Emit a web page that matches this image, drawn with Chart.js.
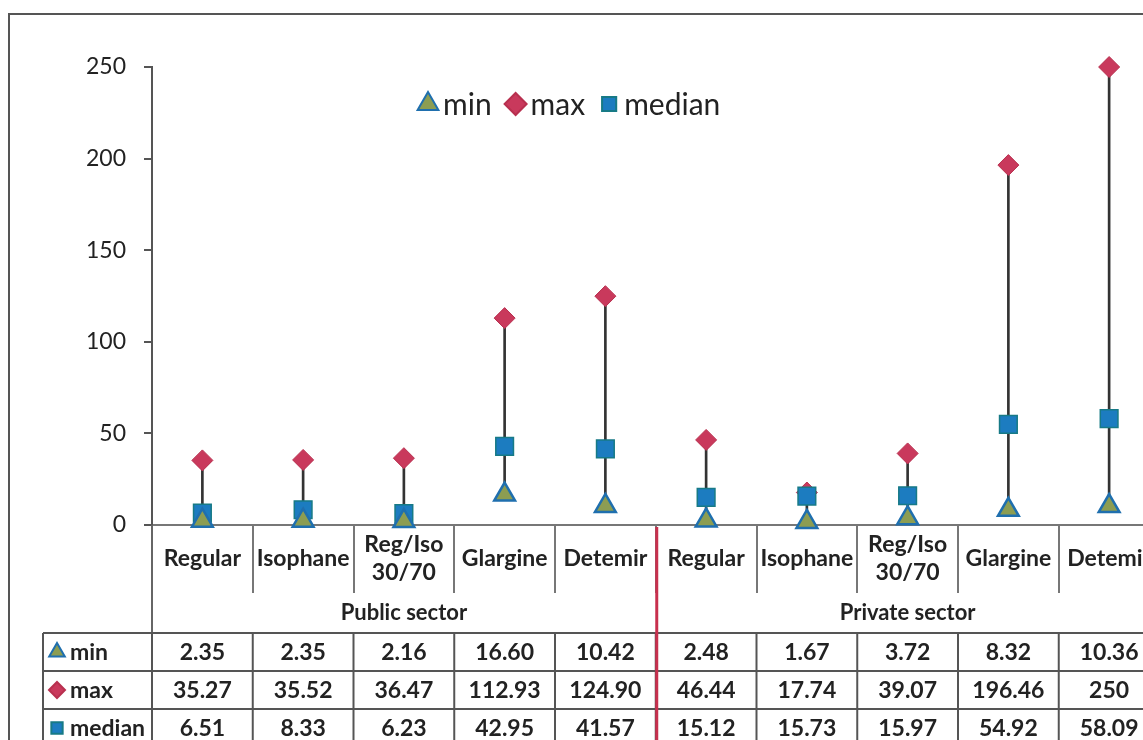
<!DOCTYPE html>
<html>
<head>
<meta charset="utf-8">
<script src="https://cdn.jsdelivr.net/npm/chart.js@4.4.1/dist/chart.umd.min.js"></script>
<style>
    html, body { margin: 0; padding: 0; overflow: hidden; background: #fff; }
    #caixa { position: relative; width: 1174px; height: 740px; }
</style>
</head>
<body>
<div id="caixa"><canvas id="grafico_insulina" width="1174" height="740"></canvas></div>
<script>
const categorias = [
    'Regular', 'Isophane', ['Reg/Iso', '30/70'], 'Glargine', 'Detemir',
    'Regular', 'Isophane', ['Reg/Iso', '30/70'], 'Glargine', 'Detemir'
];
const setores = ['Public sector', 'Private sector'];
const valores_min = [2.35, 2.35, 2.16, 16.60, 10.42, 2.48, 1.67, 3.72, 8.32, 10.36];
const valores_max = [35.27, 35.52, 36.47, 112.93, 124.90, 46.44, 17.74, 39.07, 196.46, 250];
const valores_mediana = [6.51, 8.33, 6.23, 42.95, 41.57, 15.12, 15.73, 15.97, 54.92, 58.09];
const nomes_series = ['min', 'max', 'median'];

const cor_texto = '#222';
const cor_linha = '#666';

// estilo de cada serie (usado no grafico, na legenda e na tabela)
const estilo_min = { pointStyle: 'triangle', pointRadius: 12, pointBackgroundColor: '#8c9d52', pointBorderColor: '#1f6fae', pointBorderWidth: 2.5 };
const estilo_max = { pointStyle: 'rectRot', pointRadius: 10.5, pointBackgroundColor: '#c9395c', pointBorderColor: '#b8304f', pointBorderWidth: 1 };
const estilo_mediana = { pointStyle: 'rect', pointRadius: 12.5, pointBackgroundColor: '#1c7cc0', pointBorderColor: '#177a86', pointBorderWidth: 1.5 };
const estilos = [estilo_min, estilo_max, estilo_mediana];
const series = [valores_min, valores_max, valores_mediana];

function formatar(v) {
    return Number.isInteger(v) ? String(v) : v.toFixed(2);
}

function desenharSimbolo(ctx, estilo, x, y, raio) {
    ctx.save();
    ctx.fillStyle = estilo.pointBackgroundColor;
    ctx.strokeStyle = estilo.pointBorderColor;
    Chart.helpers.drawPoint(ctx, {
        pointStyle: estilo.pointStyle,
        radius: raio,
        rotation: 0,
        borderWidth: estilo.pointBorderWidth
    }, x, y);
    ctx.restore();
}

// plugin que desenha moldura, legenda, grupos e a tabela de dados
const extrasPlugin = {
    id: 'extras',
    afterDraw(chart) {
        const ctx = chart.ctx;
        const area = chart.chartArea;
        const xs = chart.scales.x;
        const largura = (area.right - area.left) / categorias.length;

        ctx.save();
        ctx.lineWidth = 2;
        ctx.strokeStyle = '#555';

        // moldura externa
        ctx.beginPath();
        ctx.moveTo(9, 740);
        ctx.lineTo(9, 14);
        ctx.lineTo(chart.width, 14);
        ctx.stroke();

        // legenda
        ctx.font = '30px Lato';
        ctx.fillStyle = cor_texto;
        ctx.textBaseline = 'middle';
        ctx.textAlign = 'left';
        let lx = 417;
        const ly = 104;
        const raios = [12, 11, 10];
        for (let i = 0; i < nomes_series.length; i++) {
            desenharSimbolo(ctx, estilos[i], lx + 11, ly, raios[i]);
            ctx.fillStyle = cor_texto;
            ctx.fillText(nomes_series[i], lx + 26, ly + 1);
            lx += 26 + ctx.measureText(nomes_series[i]).width + 13;
        }

        // extensao do eixo y ate a tabela
        const topoTabela = 633;
        const alturaLinha = 38;
        ctx.strokeStyle = cor_linha;
        ctx.beginPath();
        ctx.moveTo(area.left, area.bottom);
        ctx.lineTo(area.left, topoTabela);
        ctx.stroke();

        // nomes dos grupos
        ctx.font = 'bold 22px Lato';
        ctx.textAlign = 'center';
        ctx.fillStyle = cor_texto;
        const porGrupo = categorias.length / setores.length;
        for (let g = 0; g < setores.length; g++) {
            const cx = (xs.getPixelForValue(g * porGrupo) + xs.getPixelForValue((g + 1) * porGrupo - 1)) / 2;
            ctx.fillText(setores[g], cx, 613);
        }

        // tabela de dados
        const esquerdaTabela = 43;
        ctx.strokeStyle = '#555';
        ctx.lineWidth = 2;
        for (let r = 0; r <= series.length; r++) {
            ctx.beginPath();
            ctx.moveTo(esquerdaTabela, topoTabela + r * alturaLinha);
            ctx.lineTo(area.right, topoTabela + r * alturaLinha);
            ctx.stroke();
        }
        const fundoTabela = topoTabela + series.length * alturaLinha;
        ctx.beginPath();
        ctx.moveTo(esquerdaTabela, topoTabela);
        ctx.lineTo(esquerdaTabela, fundoTabela);
        ctx.stroke();
        for (let c = 0; c <= categorias.length; c++) {
            const bx = area.left + c * largura;
            ctx.beginPath();
            ctx.moveTo(bx, topoTabela);
            ctx.lineTo(bx, fundoTabela);
            ctx.stroke();
        }

        ctx.font = 'bold 23px Lato';
        for (let r = 0; r < series.length; r++) {
            const cy = topoTabela + r * alturaLinha + alturaLinha / 2;
            desenharSimbolo(ctx, estilos[r], 57, cy, r === 0 ? 9 : 8);
            ctx.fillStyle = cor_texto;
            ctx.textAlign = 'left';
            ctx.fillText(nomes_series[r], 70, cy + 1);
            ctx.textAlign = 'center';
            for (let c = 0; c < categorias.length; c++) {
                ctx.fillText(formatar(series[r][c]), xs.getPixelForValue(c), cy + 1);
            }
        }

        // linha vermelha separando publico e privado
        const sx = area.left + porGrupo * largura + 1;
        ctx.strokeStyle = '#c8304e';
        ctx.lineWidth = 3;
        ctx.beginPath();
        ctx.moveTo(sx, area.bottom + 2);
        ctx.lineTo(sx, 740);
        ctx.stroke();

        ctx.restore();
    }
};

Chart.defaults.font.family = 'Lato';
Chart.defaults.color = cor_texto;

const config_insulina = {
    type: 'line',
    data: {
        labels: categorias,
        datasets: [
            {
                type: 'bar',
                label: 'faixa',
                data: valores_min.map((v, i) => [v, valores_max[i]]),
                backgroundColor: '#333',
                barThickness: 2,
                grouped: false,
                order: 4
            },
            Object.assign({ label: nomes_series[0], data: valores_min, showLine: false, clip: false, order: 1 }, estilo_min, { pointHoverRadius: estilo_min.pointRadius }),
            Object.assign({ label: nomes_series[1], data: valores_max, showLine: false, clip: false, order: 3 }, estilo_max, { pointHoverRadius: estilo_max.pointRadius }),
            Object.assign({ label: nomes_series[2], data: valores_mediana, showLine: false, clip: false, order: 2 }, estilo_mediana, { pointHoverRadius: estilo_mediana.pointRadius })
        ]
    },
    options: {
        responsive: false,
        animation: false,
        devicePixelRatio: 1,
        layout: { padding: { top: 67, left: 0, right: 6, bottom: 0 } },
        plugins: {
            legend: { display: false },
            tooltip: { enabled: false }
        },
        scales: {
            x: {
                type: 'category',
                offset: true,
                grid: { offset: true, drawOnChartArea: false, tickLength: 68, color: '#777', lineWidth: 2 },
                border: { color: '#777', width: 2 },
                ticks: {
                    padding: -48,
                    crossAlign: 'center',
                    autoSkip: false,
                    maxRotation: 0,
                    font: { size: 23, weight: 'bold', lineHeight: 1.2 },
                    color: cor_texto
                },
                afterFit(scale) { scale.height = 215; }
            },
            y: {
                min: 0,
                max: 250,
                ticks: { stepSize: 50, padding: 18, font: { size: 23 }, color: cor_texto },
                grid: { drawOnChartArea: false, tickLength: 8, color: '#555', lineWidth: 2 },
                border: { color: '#555', width: 2 },
                afterFit(scale) { scale.width = 152; }
            }
        }
    },
    plugins: [extrasPlugin]
};

const grafico_insulina = new Chart(
    document.getElementById('grafico_insulina'),
    config_insulina
);
</script>
</body>
</html>
